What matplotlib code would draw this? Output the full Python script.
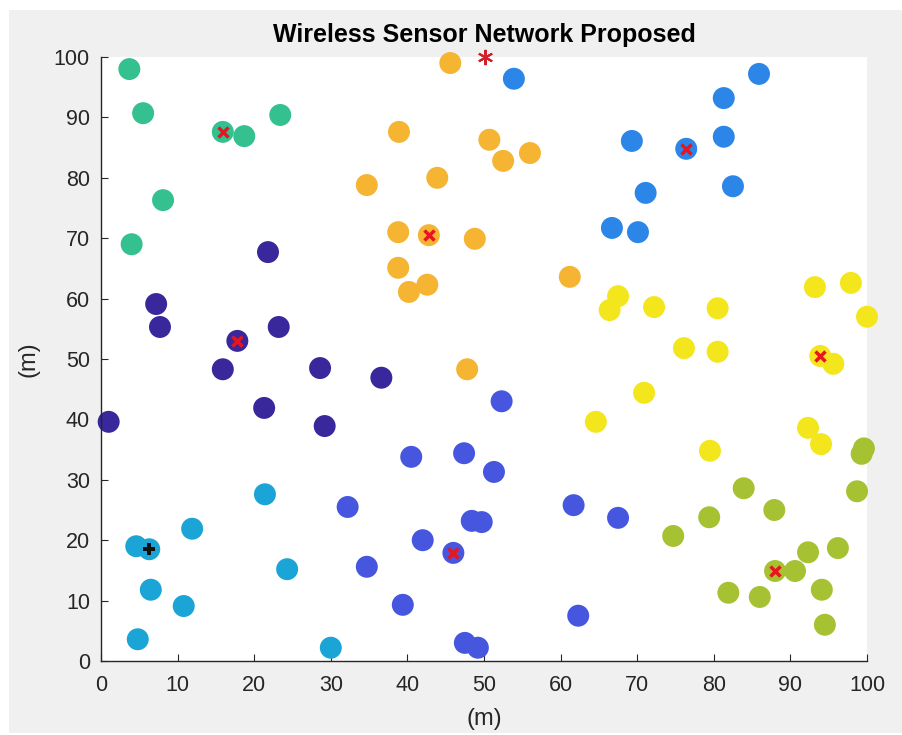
import numpy as np
import matplotlib.pyplot as plt
from matplotlib.patches import Rectangle

plt.rcParams['font.family'] = ['Liberation Sans', 'DejaVu Sans']

# node positions per cluster (m)
teal_x = [3.7, 5.5, 15.9, 18.7, 23.4, 8.1, 4.0]
teal_y = [98.0, 90.7, 87.6, 86.9, 90.4, 76.3, 69.0]
navy_x = [21.8, 7.2, 7.7, 17.8, 23.2, 15.9, 28.6, 36.6, 21.3, 29.2, 1.0]
navy_y = [67.7, 59.1, 55.3, 53.0, 55.3, 48.3, 48.5, 46.9, 41.9, 38.9, 39.6]
violet_x = [40.5, 47.4, 52.3, 51.3, 32.2, 48.4, 49.7, 42.0, 46.0, 34.7, 39.4, 47.5, 49.2, 61.7, 67.5, 62.3]
violet_y = [33.8, 34.4, 43.0, 31.3, 25.5, 23.2, 23.0, 20.0, 17.9, 15.6, 9.3, 3.0, 2.2, 25.8, 23.7, 7.5]
cyan_x = [4.6, 6.3, 6.5, 10.8, 4.8, 11.9, 21.4, 24.3, 30.0]
cyan_y = [19.0, 18.5, 11.8, 9.1, 3.6, 21.9, 27.6, 15.2, 2.2]
orange_x = [45.6, 38.9, 50.7, 52.5, 56.0, 43.9, 34.7, 42.8, 38.8, 48.8, 38.8, 40.2, 42.6, 61.2, 47.8]
orange_y = [99.0, 87.6, 86.3, 82.8, 84.1, 80.0, 78.8, 70.5, 71.0, 69.9, 65.1, 61.1, 62.3, 63.6, 48.3]
blue_x = [53.9, 85.9, 81.3, 81.3, 76.4, 69.3, 71.1, 82.5, 66.7, 70.1]
blue_y = [96.4, 97.2, 93.2, 86.8, 84.8, 86.1, 77.5, 78.6, 71.7, 71.0]
yellow_x = [67.5, 66.4, 72.2, 80.5, 76.1, 80.5, 70.9, 64.6, 79.5, 93.2, 97.9, 100.0, 93.9, 95.6, 92.3, 94.0]
yellow_y = [60.4, 58.1, 58.6, 58.4, 51.8, 51.2, 44.4, 39.6, 34.8, 61.9, 62.6, 57.0, 50.5, 49.2, 38.6, 35.9]
olive_x = [83.9, 87.9, 79.4, 74.7, 98.7, 99.6, 99.3, 92.3, 96.2, 88.0, 90.6, 81.9, 86.0, 94.1, 94.5]
olive_y = [28.6, 25.0, 23.8, 20.7, 28.1, 35.2, 34.3, 18.0, 18.7, 14.9, 14.9, 11.3, 10.6, 11.8, 6.0]

clusters = [
    (teal_x, teal_y, '#35c08f'),
    (navy_x, navy_y, '#38289c'),
    (violet_x, violet_y, '#4656de'),
    (cyan_x, cyan_y, '#1aa5d6'),
    (orange_x, orange_y, '#f5b431'),
    (blue_x, blue_y, '#2b86e8'),
    (yellow_x, yellow_y, '#f3e61c'),
    (olive_x, olive_y, '#a6c232'),
]

# cluster heads (red x) and the one black head
head_x = [15.9, 17.8, 46.0, 42.8, 76.4, 93.9, 88.0]
head_y = [87.6, 53.0, 17.9, 70.5, 84.8, 50.5, 14.9]
black_head = (6.3, 18.5)
sink = (50.1, 100.0)

fig = plt.figure(figsize=(9.02, 7.35), dpi=100, facecolor='white')
fig.add_artist(Rectangle((9 / 902, 2 / 735), 1, 1 - 12 / 735, transform=fig.transFigure,
                         facecolor='#f0f0f0', edgecolor='none', zorder=-10))
ax = fig.add_axes([101 / 902, 1 - 661 / 735, 766 / 902, 604 / 735])
ax.set_facecolor('white')

for xs, ys, c in clusters:
    ax.scatter(xs, ys, s=250, color=c, edgecolors='none', clip_on=False, zorder=2)

ax.plot(head_x, head_y, 'x', color='#e8141e', ms=7, mew=2.5, clip_on=False, zorder=3)
ax.plot(*black_head, 'P', color='#111111', ms=9, mew=0, clip_on=False, zorder=3)
ax.plot(*sink, marker=(6, 2, 0), color='#d0202a', ms=11, mew=1.5, clip_on=False, zorder=3)

ax.set_xlim(0, 100)
ax.set_ylim(0, 100)
ax.set_xticks(np.arange(0, 101, 10))
ax.set_yticks(np.arange(0, 101, 10))
ax.spines['top'].set_visible(False)
ax.spines['right'].set_visible(False)
for s in ['left', 'bottom']:
    ax.spines[s].set_color('#262626')
    ax.spines[s].set_linewidth(1.0)
ax.tick_params(direction='in', length=5, colors='#262626', labelsize=15.5, pad=8)
ax.tick_params(axis='x', pad=10)
ax.set_xlabel('(m)', fontsize=17, color='#262626', labelpad=9)
ax.set_ylabel('(m)', fontsize=17, color='#262626', labelpad=10)
ax.set_title('Wireless Sensor Network Proposed', fontsize=18, fontweight='bold', pad=11)

fig.savefig('out.png', dpi=100, facecolor=fig.get_facecolor())
